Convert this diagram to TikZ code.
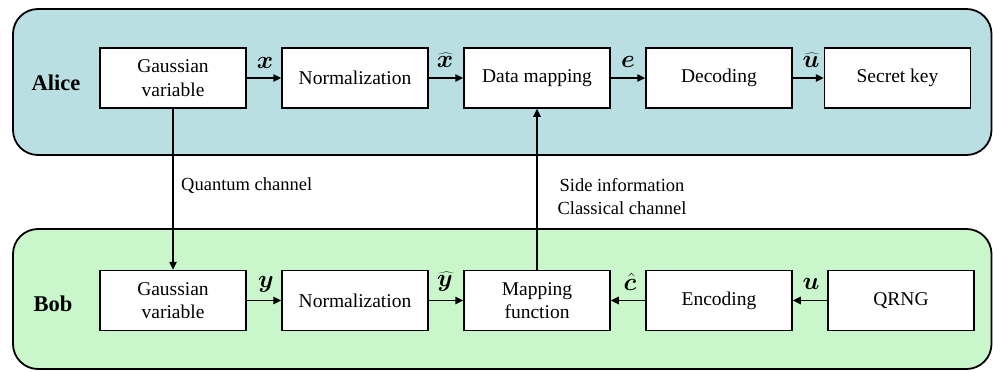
\documentclass[tikz,border=0pt]{standalone}
\usepackage{fontspec}
\setmainfont{Liberation Serif}
\usepackage{bm}
\usetikzlibrary{arrows.meta}
\definecolor{alicebg}{HTML}{BADFE3}
\definecolor{bobbg}{HTML}{C9F6CA}
\begin{document}
\begin{tikzpicture}[x=1pt,y=-1pt,
  panel/.style={draw=black,line width=1.8pt,rounded corners=25pt},
  block/.style={draw=black,line width=1.5pt,fill=white,minimum width=146pt,minimum height=60pt,
    align=center,inner sep=0pt,font=\fontsize{19.5}{23.5}\selectfont},
  who/.style={font=\fontsize{22.5}{26}\selectfont\bfseries},
  flow/.style={line width=1.5pt,-{Triangle[length=8pt,width=7.5pt]}},
  sym/.style={font=\fontsize{23}{27}\selectfont,inner sep=0pt},
  note/.style={font=\fontsize{18.5}{23}\selectfont,inner sep=0pt}]
\useasboundingbox (0,0) rectangle (993,372);

% party panels
\draw[panel,fill=alicebg] (13,9) rectangle (991.5,155);
\draw[panel,fill=bobbg] (13,229) rectangle (991.5,369);
\node[who] (alice) at (56,83) {Alice};
\node[who] (bob) at (53,304) {Bob};

% Alice's chain
\node[block] (ag) at (173,78) {Gaussian\\variable};
\node[block] (an) at (355,78) {Normalization};
\node[block] (am) at (537,78) {Data mapping};
\node[block] (ad) at (719,78) {Decoding};
\node[block] (ak) at (897.5,78) {Secret key};

% Bob's chain
\node[block] (bg) at (173,300.5) {Gaussian\\variable};
\node[block] (bn) at (355,300.5) {Normalization};
\node[block] (bm) at (537,300.5) {Mapping\\function};
\node[block] (be) at (719,300.5) {Encoding};
\node[block] (bq) at (901,300.5) {QRNG};

% arrows inside the panels
\draw[flow] (ag) -- (an);
\draw[flow] (an) -- (am);
\draw[flow] (am) -- (ad);
\draw[flow] (ad) -- (ak);
\draw[flow] (bg) -- (bn);
\draw[flow] (bn) -- (bm);
\draw[flow] (be) -- (bm);
\draw[flow] (bq) -- (be);

% symbols on the arrows
\node[sym] (lx) at (265,63) {$\bm{x}$};
\node[sym] (lxh) at (445,60) {$\widehat{\bm{x}}$};
\node[sym] (le) at (628,62) {$\bm{e}$};
\node[sym] (luh) at (811,60) {$\widehat{\bm{u}}$};
\node[sym] (ly) at (266,284) {$\bm{y}$};
\node[sym] (lyh) at (445,282) {$\widehat{\bm{y}}$};
\node[sym] (lch) at (630,282) {$\hat{\bm{c}}$};
\node[sym] (lu) at (811,284) {$\bm{u}$};

% channels between the parties
\draw[flow] (ag) -- (bg);
\draw[flow] (bm) -- (am);
\node[note,anchor=west] (qc) at (181,186) {Quantum channel};
\node[note,align=center] (sc) at (622,197) {Side information\\Classical channel};
\end{tikzpicture}
\end{document}
